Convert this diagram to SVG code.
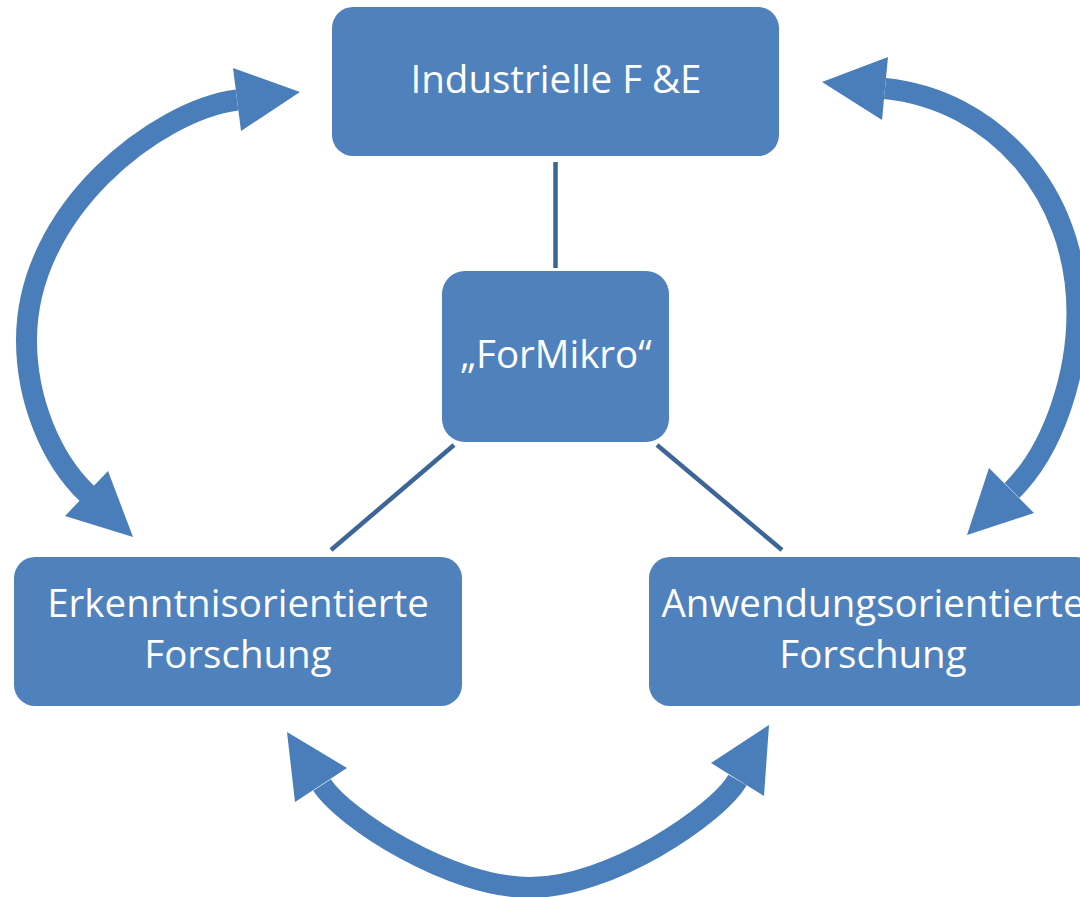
<svg xmlns="http://www.w3.org/2000/svg" width="1080" height="897" viewBox="0 0 1080 897">
<style>
.box{fill:#4f81bd;}
.lbl{fill:#ffffff;font-family:"Open Sans","Noto Sans",sans-serif;text-anchor:middle;font-size:38.5px;}
.link{stroke:#3d6698;stroke-width:4.5;fill:none;}
.shaft{stroke:#4a7ebb;stroke-width:21;fill:none;stroke-linecap:butt;}
.head{fill:#4a7ebb;}
</style>
<rect width="1080" height="897" fill="#ffffff"/>
<g id="connectors">
<line class="link" x1="555.5" y1="162" x2="555.5" y2="268"/>
<line class="link" x1="454" y1="445" x2="331" y2="550"/>
<line class="link" x1="657" y1="445" x2="782" y2="550"/>
<path class="shaft" d="M237,100 C157.6,110.1 26.5,210 26.5,340 C26.5,400 50.9,459 87,493.5"/>
<polygon class="head" points="300,92 233,68 241,131"/>
<polygon class="head" points="133,537 65,516 108,471"/>
<path class="shaft" d="M885,88.5 C994.5,99.8 1077,193 1077,313 C1077,373 1054.7,448.3 1012,490.5"/>
<polygon class="head" points="822,82 888,57 882,120"/>
<polygon class="head" points="967,535 989,468 1034,513"/>
<path class="shaft" d="M322,785 C344,818.4 450,887.5 530,887.5 C610,887.5 717.6,814.7 737.5,780"/>
<polygon class="head" points="287,732 295,802 347,768"/>
<polygon class="head" points="769,725 711,763 764,796"/>
</g>
<g id="node-industrie">
<rect class="box" x="332" y="7" width="447" height="149" rx="21"/>
<text class="lbl" x="556" y="93">Industrielle F &amp;E</text>
</g>
<g id="node-formikro">
<rect class="box" x="442" y="271" width="227" height="171" rx="23"/>
<text class="lbl" x="556" y="368">„ForMikro“</text>
</g>
<g id="node-erkenntnis">
<rect class="box" x="14" y="557" width="448" height="149" rx="21"/>
<text class="lbl" x="238" y="617">Erkenntnisorientierte</text>
<text class="lbl" x="238" y="668">Forschung</text>
</g>
<g id="node-anwendung">
<rect class="box" x="649" y="557" width="448" height="149" rx="21"/>
<text class="lbl" x="873" y="617">Anwendungsorientierte</text>
<text class="lbl" x="873" y="668">Forschung</text>
</g>
</svg>
